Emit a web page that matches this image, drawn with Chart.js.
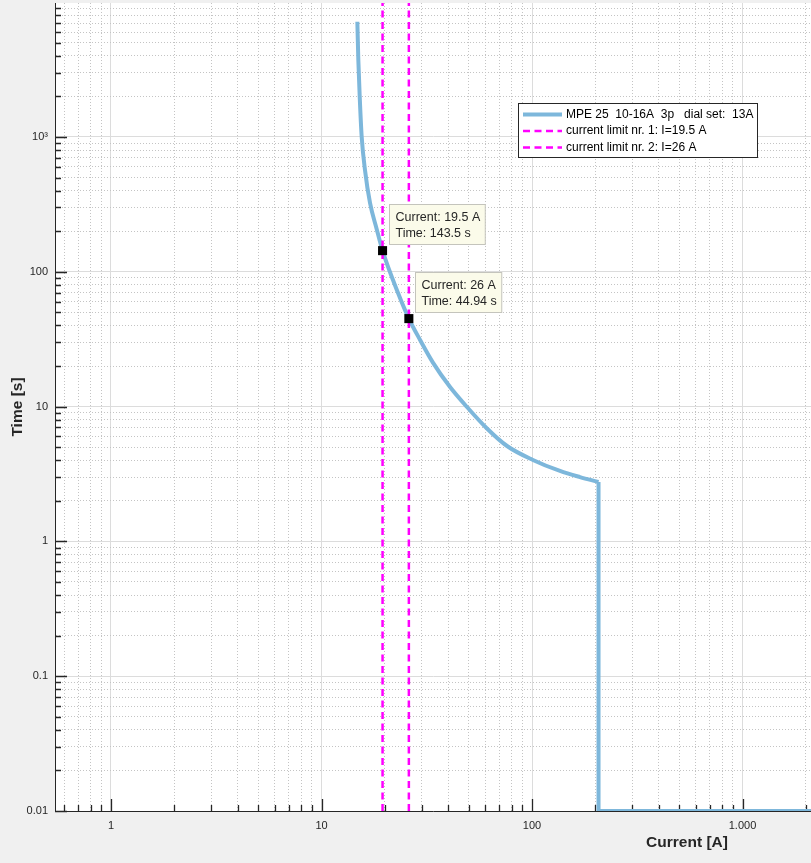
<!DOCTYPE html>
<html>
<head>
<meta charset="utf-8">
<script src="https://cdn.jsdelivr.net/npm/chart.js@4.4.1/dist/chart.umd.min.js"></script>
<style>
html, body { margin: 0; padding: 0; background: #f0f0f0; overflow: hidden; }
#wrap { width: 811px; height: 863px; }
</style>
</head>
<body>
<div id="wrap"><canvas id="myChart" width="811" height="863"></canvas></div>
<script>
// trip curve
const curveCurrent = [14.8, 14.96, 15.19, 15.52, 16.09, 17.0, 18.28, 19.5, 23.1, 26, 29.4, 33.9, 40.8, 49.1, 61.1, 76.1, 101, 135.8, 169, 207];
const curveTime = [7165, 3725, 1982, 1000, 569, 324, 208, 143.5, 69.6, 44.94, 31.2, 21.1, 13.97, 9.93, 6.88, 5.10, 4.02, 3.33, 3.00, 2.76];
const stepCurrent = [207, 207, 2115];
const stepTime = [2.76, 0.01, 0.01];

const limitCurrent = [19.5, 26];
const tipTime = [143.5, 44.94];

const xRange = [0.542, 2115];
const yRange = [0.01, 9860];

const xTickValues = [1, 10, 100, 1000];
const xTickLabels = ['1', '10', '100', '1.000'];
const yTickValues = [0.01, 0.1, 1, 10, 100, 1000];
const yTickLabels = ['0.01', '0.1', '1', '10', '100', '10³'];

const legendLabels = ['MPE 25  10-16A  3p   dial set:  13A', 'current limit nr. 1: I=19.5 A', 'current limit nr. 2: I=26 A'];

const blue = '#7db7db';
const magenta = '#ff00ff';
const font = '"Liberation Sans", Arial, Helvetica, sans-serif';

function pts(xs, ys) {
  return xs.map((x, i) => ({x: x, y: ys[i]}));
}

function logTicks(min, max) {
  const out = [];
  for (let k = Math.floor(Math.log10(min)); k <= Math.ceil(Math.log10(max)); k++) {
    for (let m = 1; m < 10; m++) {
      const v = Number((m * Math.pow(10, k)).toPrecision(6));
      if (v >= min && v <= max) out.push({value: v, major: m === 1});
    }
  }
  return out;
}

function labelFor(values, labels) {
  return (v) => {
    const i = values.indexOf(v);
    return i < 0 ? '' : labels[i];
  };
}

const gridOpts = {
  drawTicks: false,
  lineWidth: 1,
  color: (c) => (c.tick && c.tick.major) ? '#dcdcdc' : '#c4c4c4'
};
const borderOpts = {
  color: '#262626',
  width: 1,
  dash: (c) => (c.tick && !c.tick.major) ? [1, 2] : []
};

// background: grey figure, white axes
const bgPlugin = {
  id: 'bg',
  beforeDraw(chart) {
    const {ctx, chartArea: a} = chart;
    ctx.save();
    ctx.fillStyle = '#f0f0f0';
    ctx.fillRect(0, 0, chart.width, chart.height);
    ctx.fillStyle = '#ffffff';
    ctx.fillRect(a.left, a.top, a.right - a.left, a.bottom - a.top);
    ctx.restore();
  }
};

// matlab style ticks pointing inward
const tickPlugin = {
  id: 'inTicks',
  beforeDatasetsDraw(chart) {
    const {ctx, chartArea: a, scales} = chart;
    ctx.save();
    ctx.strokeStyle = '#262626';
    ctx.lineWidth = 1.3;
    ctx.beginPath();
    scales.x.ticks.forEach(t => {
      const px = Math.round(scales.x.getPixelForValue(t.value)) + 0.5;
      ctx.moveTo(px, a.bottom);
      ctx.lineTo(px, a.bottom - (t.major ? 12 : 6));
    });
    scales.y.ticks.forEach(t => {
      const py = Math.round(scales.y.getPixelForValue(t.value)) + 0.5;
      ctx.moveTo(a.left, py);
      ctx.lineTo(a.left + (t.major ? 12 : 6), py);
    });
    ctx.stroke();
    ctx.restore();
  }
};

// titles, legend and data tips
const overlayPlugin = {
  id: 'overlay',
  afterDraw(chart) {
    const {ctx, chartArea: a, scales} = chart;
    ctx.save();

    // axis titles
    ctx.fillStyle = '#262626';
    ctx.font = 'bold 15.5px ' + font;
    ctx.textAlign = 'center';
    ctx.textBaseline = 'middle';
    ctx.fillText('Current [A]', 687, 843);
    ctx.save();
    ctx.translate(18, (a.top + a.bottom) / 2);
    ctx.rotate(-Math.PI / 2);
    ctx.fillText('Time [s]', 0, 0);
    ctx.restore();

    // data tips
    ctx.font = '12.5px ' + font;
    ctx.textAlign = 'left';
    limitCurrent.forEach((c, i) => {
      const mx = scales.x.getPixelForValue(c);
      const my = scales.y.getPixelForValue(tipTime[i]);
      const l1 = 'Current: ' + c + ' A';
      const l2 = 'Time: ' + tipTime[i] + ' s';
      const w = Math.max(ctx.measureText(l1).width, ctx.measureText(l2).width) + 11;
      const bx = Math.round(mx + 6) + 0.5;
      const by = Math.round(my - 47) + 0.5;
      ctx.fillStyle = '#fbfbea';
      ctx.strokeStyle = '#c4c4bc';
      ctx.lineWidth = 1;
      ctx.fillRect(bx, by, w, 40);
      ctx.strokeRect(bx, by, w, 40);
      ctx.fillStyle = '#262626';
      ctx.fillText(l1, bx + 6, by + 13);
      ctx.fillText(l2, bx + 6, by + 29.5);
    });

    // legend
    ctx.font = '12px ' + font;
    const tw = Math.max(...legendLabels.map(s => ctx.measureText(s).width));
    const lx = 518.5, ly = 103.5;
    const lw = Math.round(48 + tw + 4), lh = 54;
    ctx.fillStyle = '#ffffff';
    ctx.fillRect(lx, ly, lw, lh);
    ctx.strokeStyle = '#262626';
    ctx.lineWidth = 1;
    ctx.strokeRect(lx, ly, lw, lh);
    const styles = [
      {color: blue, width: 4, dash: []},
      {color: magenta, width: 2.5, dash: [7, 4.5]},
      {color: magenta, width: 2.5, dash: [7, 4.5]}
    ];
    legendLabels.forEach((s, i) => {
      const ry = ly + 11 + i * 16.5;
      ctx.strokeStyle = styles[i].color;
      ctx.lineWidth = styles[i].width;
      ctx.setLineDash(styles[i].dash);
      ctx.beginPath();
      ctx.moveTo(lx + 4.5, ry);
      ctx.lineTo(lx + 43.5, ry);
      ctx.stroke();
      ctx.setLineDash([]);
      ctx.fillStyle = '#000000';
      ctx.fillText(s, lx + 47.5, ry);
    });
    ctx.restore();
  }
};

const ctx1 = document.getElementById('myChart');

new Chart(ctx1, {
  type: 'line',
  data: {
    datasets: [
      {
        label: 'tips',
        data: pts(limitCurrent, tipTime),
        showLine: false,
        pointStyle: 'rect',
        pointRadius: 6.4,
        pointBackgroundColor: '#000000',
        pointBorderColor: '#000000',
        pointBorderWidth: 0
      },
      {
        label: legendLabels[1],
        data: pts([limitCurrent[0], limitCurrent[0]], yRange),
        borderColor: magenta,
        borderWidth: 2.5,
        borderDash: [7, 4.5],
        pointRadius: 0
      },
      {
        label: legendLabels[2],
        data: pts([limitCurrent[1], limitCurrent[1]], yRange),
        borderColor: magenta,
        borderWidth: 2.5,
        borderDash: [7, 4.5],
        pointRadius: 0
      },
      {
        label: legendLabels[0],
        data: pts(curveCurrent, curveTime),
        borderColor: blue,
        borderWidth: 4,
        pointRadius: 0,
        cubicInterpolationMode: 'monotone'
      },
      {
        label: 'step',
        data: pts(stepCurrent, stepTime),
        borderColor: blue,
        borderWidth: 4,
        pointRadius: 0,
        borderJoinStyle: 'miter'
      }
    ]
  },
  options: {
    responsive: false,
    animation: false,
    devicePixelRatio: 1,
    layout: {autoPadding: false, padding: {top: 3, right: 0, left: 0, bottom: 0}},
    plugins: {legend: {display: false}, tooltip: {enabled: false}},
    scales: {
      x: {
        type: 'logarithmic',
        position: 'bottom',
        min: xRange[0],
        max: xRange[1],
        afterBuildTicks: (s) => { s.ticks = logTicks(s.min, s.max); },
        afterFit: (s) => { s.height = 52; s.paddingLeft = 0; s.paddingRight = 0; },
        ticks: {
          autoSkip: false,
          maxRotation: 0,
          padding: 8,
          color: '#262626',
          font: {family: font, size: 11},
          callback: labelFor(xTickValues, xTickLabels)
        },
        grid: gridOpts,
        border: borderOpts
      },
      y: {
        type: 'logarithmic',
        position: 'left',
        min: yRange[0],
        max: yRange[1],
        afterBuildTicks: (s) => { s.ticks = logTicks(s.min, s.max); },
        afterFit: (s) => { s.width = 55; s.paddingTop = 0; s.paddingBottom = 0; },
        ticks: {
          autoSkip: false,
          padding: 7,
          color: '#262626',
          font: {family: font, size: 11},
          callback: labelFor(yTickValues, yTickLabels)
        },
        grid: gridOpts,
        border: borderOpts
      }
    }
  },
  plugins: [bgPlugin, tickPlugin, overlayPlugin]
});
</script>
</body>
</html>
